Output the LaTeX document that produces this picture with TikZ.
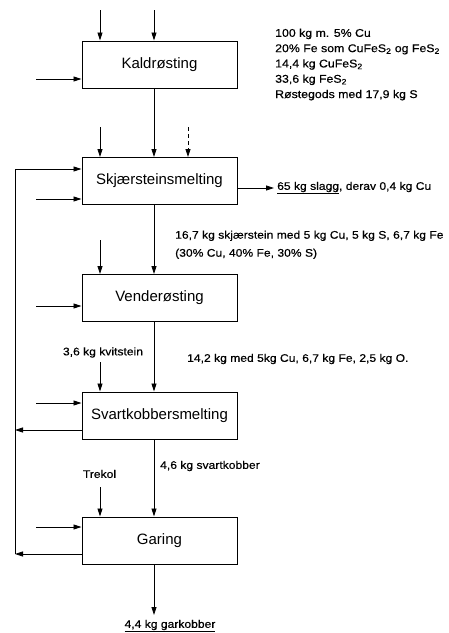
\documentclass[tikz,border=0pt]{standalone}
\usepackage{fontspec}
\setmainfont{Liberation Sans}
\newfontfamily\sidefont{Liberation Sans}[FakeStretch=1.1,FakeBold=0.5]
\usetikzlibrary{arrows.meta}
\begin{document}
\begin{tikzpicture}[x=1pt,y=-1pt,
  procbox/.style={draw, line width=0.9pt, minimum width=155pt, minimum height=47pt, inner sep=0pt, font=\fontsize{15}{18}\selectfont},
  flow/.style={line width=0.8pt, -{Triangle[length=8pt,width=5pt]}},
  plain/.style={line width=0.8pt},
  side/.style={font=\sidefont\fontsize{11}{12}\selectfont, inner sep=0pt, align=left},
]
\useasboundingbox (0,0) rectangle (448,633);

% process boxes
\node[procbox] (kald)  at (159.5,64.5)  {Kaldrøsting};
\node[procbox] (skj)   at (159.5,181)   {Skjærsteinsmelting};
\node[procbox] (vend)  at (159.5,298)   {Venderøsting};
\node[procbox] (svart) at (159.5,415.5) {Svartkobbersmelting};
\node[procbox] (gar)   at (159.5,540.5) {Garing};

% helper coordinates
\coordinate (m) at (154,0);
\coordinate (k1) at (100,10);
\coordinate (k2) at (154,10);
\coordinate (kl) at (36,79);
\coordinate (s1) at (100,127);
\coordinate (s3) at (188,127);
\coordinate (sl) at (36,199);
\coordinate (sr) at (274,188);
\coordinate (v1) at (100,240);
\coordinate (vl) at (36,306);
\coordinate (sv1) at (100,362);
\coordinate (svl) at (36,403);
\coordinate (so) at (15,430);
\coordinate (g1) at (100,487);
\coordinate (gl) at (36,527);
\coordinate (fbtop) at (15,169);
\coordinate (fbbot) at (15,554);
\coordinate (gk) at (154,615);

% Kaldrosting inputs
\draw[flow] (k1) -- (k1 |- kald.north);
\draw[flow] (k2) -- (k2 |- kald.north);
\draw[flow] (kl) -- (kl -| kald.west);

% main line
\draw[flow] (kald.south -| m) -- (skj.north -| m);
\draw[flow] (skj.south -| m) -- (vend.north -| m);
\draw[flow] (vend.south -| m) -- (svart.north -| m);
\draw[flow] (svart.south -| m) -- (gar.north -| m);
\draw[flow] (gar.south -| m) -- (gk);

% Skjaersteinsmelting
\draw[flow] (s1) -- (s1 |- skj.north);
\draw[flow, dash pattern=on 4pt off 3pt] (s3) -- (s3 |- skj.north);
\draw[flow] (sl) -- (sl -| skj.west);
\draw[flow] (sr -| skj.east) -- (sr);

% feedback line
\draw[plain] (fbbot) -- (fbtop);
\draw[flow] (fbtop) -- (fbtop -| skj.west);
\draw[flow] (so -| svart.west) -- (so);
\draw[flow] (fbbot -| gar.west) -- (fbbot);

% Venderosting
\draw[flow] (v1) -- (v1 |- vend.north);
\draw[flow] (vl) -- (vl -| vend.west);

% Svartkobbersmelting
\draw[flow] (sv1) -- (sv1 |- svart.north);
\draw[flow] (svl) -- (svl -| svart.west);

% Garing
\draw[flow] (g1) -- (g1 |- gar.north);
\draw[flow] (gl) -- (gl -| gar.west);

% texts
\node[side, anchor=north west, font=\sidefont\fontsize{11.2}{15.3}\selectfont] (t1) at (275,28.5)
  {100 kg m. 5\% Cu\\20\% Fe som CuFeS\textsubscript{2} og FeS\textsubscript{2}\\14,4 kg CuFeS\textsubscript{2}\\33,6 kg FeS\textsubscript{2}\\Røstegods med 17,9 kg S};
\node[side, anchor=west] (t2) at (277,188) {\underline{65 kg slagg}, derav 0,4 kg Cu};
\node[side, anchor=north west, font=\sidefont\fontsize{11}{18}\selectfont] (t3) at (175,230.5)
  {16,7 kg skjærstein med 5 kg Cu, 5 kg S, 6,7 kg Fe\\(30\% Cu, 40\% Fe, 30\% S)};
\node[side] (t4) at (103,352.5) {3,6 kg kvitstein};
\node[side, anchor=west] (t5) at (187,359) {14,2 kg med 5kg Cu, 6,7 kg Fe, 2,5 kg O.};
\node[side, anchor=west] (t6) at (160,466) {4,6 kg svartkobber};
\node[side] (t7) at (99.5,474) {Trekol};
\node[side] (t8) at (170,626) {\underline{4,4 kg garkobber}};
\end{tikzpicture}
\end{document}
